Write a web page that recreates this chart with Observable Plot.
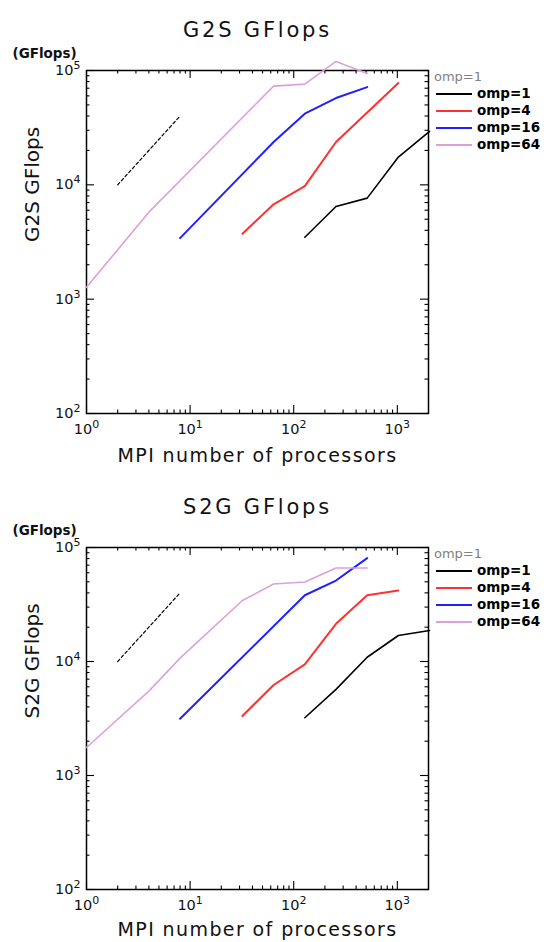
<!DOCTYPE html>
<html>
<head>
<meta charset="utf-8">
<script src="https://cdn.jsdelivr.net/npm/d3@7"></script>
<script src="https://cdn.jsdelivr.net/npm/@observablehq/plot@0.6"></script>
<style>
  html, body { margin: 0; padding: 0; background: #fff; }
  #wrap { position: relative; width: 549px; font-family: "DejaVu Sans", sans-serif; }
  .chart { position: relative; width: 549px; height: 471px; overflow: visible; }
  .chart svg { position: absolute; left: 0; top: 0; overflow: visible; }
  .lg { position: absolute; transform: translateY(-50%); white-space: nowrap; line-height: 1; }
  .lg-head { left: 434px; font-size: 13px; color: #808080; }
  .lg-sw { left: 436px; width: 36px; height: 0; border-top-style: solid; }
  .lg-txt { left: 477px; font-size: 13.5px; font-weight: bold; color: #000; }
</style>
</head>
<body>
<div id="wrap"></div>
<script>
// ---------- data ----------
const xTickValues = [1, 10, 100, 1000];
const yTickValues = [100, 1000, 10000, 100000];
const ompLabels = ["omp=1", "omp=4", "omp=16", "omp=64"];
const ompColors = ["#000000", "#ff3030", "#2020ff", "#dda0dd"];
const ompWidths = [1.6, 2, 2, 1.6];

// G2S GFlops
const g2sOmp1Procs = [128, 256, 512, 1024, 2048];
const g2sOmp1Gflops = [3480, 6470, 7650, 17500, 29300];
const g2sOmp4Procs = [32, 64, 128, 256, 1024];
const g2sOmp4Gflops = [3730, 6750, 9750, 23700, 77600];
const g2sOmp16Procs = [8, 64, 128, 256, 512];
const g2sOmp16Gflops = [3420, 23700, 41900, 57400, 71600];
const g2sOmp64Procs = [1, 4, 64, 128, 256, 512];
const g2sOmp64Gflops = [1270, 5770, 73000, 76000, 120000, 94000];

// S2G GFlops
const s2gOmp1Procs = [128, 256, 512, 1024, 2048];
const s2gOmp1Gflops = [3210, 5700, 10900, 16900, 18700];
const s2gOmp4Procs = [32, 64, 128, 256, 512, 1024];
const s2gOmp4Gflops = [3330, 6220, 9440, 21400, 38100, 41900];
const s2gOmp16Procs = [8, 128, 256, 512];
const s2gOmp16Gflops = [3150, 38100, 51300, 80700];
const s2gOmp64Procs = [1, 4, 8, 32, 64, 128, 256, 512];
const s2gOmp64Gflops = [1760, 5500, 10700, 34300, 47900, 49800, 66100, 66100];

// dashed reference slope
const refProcs = [2, 8];
const refGflops = [10000, 40000];

// ---------- helpers ----------
function minorTicks(lo, hi) {
  const out = [];
  for (let e = Math.floor(Math.log10(lo)); e <= Math.ceil(Math.log10(hi)); e++) {
    for (let m = 2; m <= 9; m++) {
      const v = m * Math.pow(10, e);
      if (v > lo && v < hi) out.push(v);
    }
  }
  return out;
}
const supFmt = d => "10^" + Math.round(Math.log10(d));

function makeChart(cfg) {
  const W = 549, H = 471, mL = 86, mR = 121;
  const mT = cfg.marginTop, mB = cfg.marginBottom;
  const fw = W - mL - mR, fh = H - mT - mB;
  const xDomain = [1, 2000], yDomain = [100, 100000];
  const xMinor = minorTicks(xDomain[0], xDomain[1]);
  const yMinor = minorTicks(yDomain[0], yDomain[1]);
  const majLen = 8, minLen = 3.5;
  const tickStyle = {stroke: "black", strokeWidth: 1.1};

  const marks = [];
  // inward ticks on all four sides
  marks.push(Plot.tickX(xTickValues, {x: d => d, insetTop: fh - majLen, ...tickStyle}));
  marks.push(Plot.tickX(xTickValues, {x: d => d, insetBottom: fh - majLen, ...tickStyle}));
  marks.push(Plot.tickX(xMinor, {x: d => d, insetTop: fh - minLen, ...tickStyle}));
  marks.push(Plot.tickX(xMinor, {x: d => d, insetBottom: fh - minLen, ...tickStyle}));
  marks.push(Plot.tickY(yTickValues, {y: d => d, insetRight: fw - majLen, ...tickStyle}));
  marks.push(Plot.tickY(yTickValues, {y: d => d, insetLeft: fw - majLen, ...tickStyle}));
  marks.push(Plot.tickY(yMinor, {y: d => d, insetRight: fw - minLen, ...tickStyle}));
  marks.push(Plot.tickY(yMinor, {y: d => d, insetLeft: fw - minLen, ...tickStyle}));
  marks.push(Plot.frame({stroke: "black", strokeWidth: 1.5}));

  marks.push(Plot.axisX({ticks: xTickValues, anchor: "bottom", tickSize: 0, tickPadding: 10,
    tickFormat: supFmt, fontSize: 14.5, label: null}));
  marks.push(Plot.axisY({ticks: yTickValues, anchor: "left", tickSize: 0, tickPadding: 6,
    tickFormat: supFmt, fontSize: 14.5, label: null}));

  // dashed slope
  const refRows = refProcs.map((p, i) => ({p, g: refGflops[i]}));
  marks.push(Plot.line(refRows, {x: "p", y: "g", stroke: "black", strokeWidth: 1.2, strokeDasharray: "3,2.5"}));

  // series
  cfg.series.forEach((s, k) => {
    const rows = s.procs.map((p, i) => ({p, g: s.gflops[i]}));
    marks.push(Plot.line(rows, {x: "p", y: "g", stroke: ompColors[k], strokeWidth: ompWidths[k]}));
  });

  // texts
  marks.push(Plot.text([cfg.title], {text: d => d, frameAnchor: "top", dy: -48, fontSize: 21, fill: "#111"}));
  marks.push(Plot.text(["(GFlops)"], {text: d => d, frameAnchor: "top-left", textAnchor: "start",
    dx: -74, dy: -22, fontSize: 13.5, fontWeight: "bold", fill: "#111"}));
  marks.push(Plot.text([cfg.ylabel], {text: d => d, frameAnchor: "left", dx: -54, rotate: -90, fontSize: 20, fill: "#111"}));
  marks.push(Plot.text(["MPI number of processors"], {text: d => d, frameAnchor: "bottom", dy: cfg.xlabelDy, fontSize: 19, fill: "#111"}));

  const svg = Plot.plot({
    width: W, height: H,
    marginLeft: mL, marginRight: mR, marginTop: mT, marginBottom: mB,
    x: {type: "log", domain: xDomain},
    y: {type: "log", domain: yDomain},
    style: {fontFamily: "DejaVu Sans, sans-serif", background: "transparent", overflow: "visible", color: "#111"},
    marks
  });

  // superscript exponents on tick labels
  d3.select(svg).selectAll('g[aria-label$="tick label"] text').each(function () {
    const t = this.textContent;
    const m = /^10\^(-?\d+)$/.exec(t);
    if (!m) return;
    this.textContent = "10";
    const ts = document.createElementNS("http://www.w3.org/2000/svg", "tspan");
    ts.setAttribute("dy", "-6");
    ts.setAttribute("font-size", "11");
    ts.textContent = m[1];
    this.appendChild(ts);
  });
  // letter spacing for wide (unrotated) title and x label
  d3.select(svg).selectAll("text").each(function () {
    const tr = this.getAttribute("transform") || "";
    if (tr.includes("rotate")) return;
    if (this.textContent === cfg.title) this.setAttribute("letter-spacing", "2.8");
    if (this.textContent === "MPI number of processors") this.setAttribute("letter-spacing", "1.4");
  });

  const div = document.createElement("div");
  div.className = "chart";
  div.appendChild(svg);

  // legend (HTML, outside the plot frame)
  const rowsY = [24, 40.5, 57.5, 74.5];
  const head = document.createElement("div");
  head.className = "lg lg-head";
  head.style.top = (mT + 6) + "px";
  head.textContent = "omp=1";
  div.appendChild(head);
  ompLabels.forEach((lab, k) => {
    const sw = document.createElement("div");
    sw.className = "lg lg-sw";
    sw.style.top = (mT + rowsY[k]) + "px";
    sw.style.borderTopColor = ompColors[k];
    sw.style.borderTopWidth = "2px";
    div.appendChild(sw);
    const tx = document.createElement("div");
    tx.className = "lg lg-txt";
    tx.style.top = (mT + rowsY[k]) + "px";
    tx.textContent = lab;
    div.appendChild(tx);
  });
  return div;
}

const wrap = document.getElementById("wrap");
wrap.appendChild(makeChart({
  title: "G2S GFlops", ylabel: "G2S GFlops",
  marginTop: 70, marginBottom: 58, xlabelDy: 48,
  series: [
    {procs: g2sOmp1Procs, gflops: g2sOmp1Gflops},
    {procs: g2sOmp4Procs, gflops: g2sOmp4Gflops},
    {procs: g2sOmp16Procs, gflops: g2sOmp16Gflops},
    {procs: g2sOmp64Procs, gflops: g2sOmp64Gflops}
  ]
}));
wrap.appendChild(makeChart({
  title: "S2G GFlops", ylabel: "S2G GFlops",
  marginTop: 76, marginBottom: 53, xlabelDy: 46,
  series: [
    {procs: s2gOmp1Procs, gflops: s2gOmp1Gflops},
    {procs: s2gOmp4Procs, gflops: s2gOmp4Gflops},
    {procs: s2gOmp16Procs, gflops: s2gOmp16Gflops},
    {procs: s2gOmp64Procs, gflops: s2gOmp64Gflops}
  ]
}));
</script>
</body>
</html>
